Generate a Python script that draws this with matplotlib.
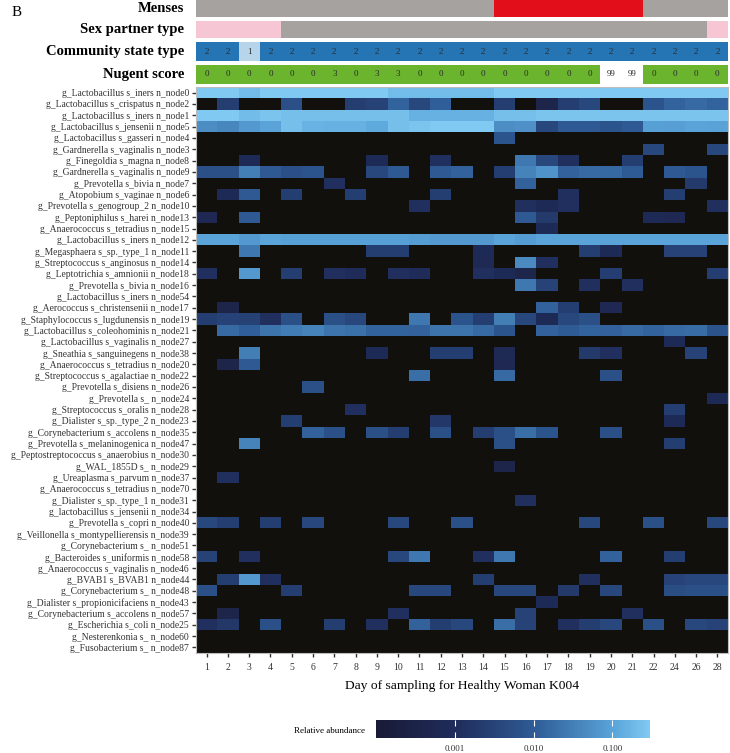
import numpy as np
import matplotlib.pyplot as plt
from matplotlib.colors import LinearSegmentedColormap, LogNorm

W, H = 730, 753

days = [1, 2, 3, 4, 5, 6, 7, 8, 9, 10, 11, 12, 13, 14, 15, 16, 17, 18, 19, 20,
        21, 22, 24, 26, 28]

menses = ['no'] * 14 + ['yes'] * 7 + ['no'] * 4
sex_partner = ['A'] * 4 + ['none'] * 20 + ['A']
cst = [2, 2, 1, 2, 2, 2, 2, 2, 2, 2, 2, 2, 2, 2, 2, 2, 2, 2, 2, 2, 2, 2, 2, 2, 2]
nugent = [0, 0, 0, 0, 0, 0, 3, 0, 3, 3, 0, 0, 0, 0, 0, 0, 0, 0, 0, 99, 99, 0, 0, 0, 0]

taxa = [
    'g_Lactobacillus s_iners n_node0',
    'g_Lactobacillus s_crispatus n_node2',
    'g_Lactobacillus s_iners n_node1',
    'g_Lactobacillus s_jensenii n_node5',
    'g_Lactobacillus s_gasseri n_node4',
    'g_Gardnerella s_vaginalis n_node3',
    'g_Finegoldia s_magna n_node8',
    'g_Gardnerella s_vaginalis n_node9',
    'g_Prevotella s_bivia n_node7',
    'g_Atopobium s_vaginae n_node6',
    'g_Prevotella s_genogroup_2 n_node10',
    'g_Peptoniphilus s_harei n_node13',
    'g_Anaerococcus s_tetradius n_node15',
    'g_Lactobacillus s_iners n_node12',
    'g_Megasphaera s_sp._type_1 n_node11',
    'g_Streptococcus s_anginosus n_node14',
    'g_Leptotrichia s_amnionii n_node18',
    'g_Prevotella s_bivia n_node16',
    'g_Lactobacillus s_iners n_node54',
    'g_Aerococcus s_christensenii n_node17',
    'g_Staphylococcus s_lugdunensis n_node19',
    'g_Lactobacillus s_coleohominis n_node21',
    'g_Lactobacillus s_vaginalis n_node27',
    'g_Sneathia s_sanguinegens n_node38',
    'g_Anaerococcus s_tetradius n_node20',
    'g_Streptococcus s_agalactiae n_node22',
    'g_Prevotella s_disiens n_node26',
    'g_Prevotella s_ n_node24',
    'g_Streptococcus s_oralis n_node28',
    'g_Dialister s_sp._type_2 n_node23',
    'g_Corynebacterium s_accolens n_node35',
    'g_Prevotella s_melaninogenica n_node47',
    'g_Peptostreptococcus s_anaerobius n_node30',
    'g_WAL_1855D s_ n_node29',
    'g_Ureaplasma s_parvum n_node37',
    'g_Anaerococcus s_tetradius n_node70',
    'g_Dialister s_sp._type_1 n_node31',
    'g_lactobacillus s_jensenii n_node34',
    'g_Prevotella s_copri n_node40',
    'g_Veillonella s_montypellierensis n_node39',
    'g_Corynebacterium s_ n_node51',
    'g_Bacteroides s_uniformis n_node58',
    'g_Anaerococcus s_vaginalis n_node46',
    'g_BVAB1 s_BVAB1 n_node44',
    'g_Corynebacterium s_ n_node48',
    'g_Dialister s_propionicifaciens n_node43',
    'g_Corynebacterium s_accolens n_node57',
    'g_Escherichia s_coli n_node25',
    'g_Nesterenkonia s_ n_node60',
    'g_Fusobacterium s_ n_node87',
]

# relative abundance in per-mille, one row per taxon, one value per day (0 = absent)
abund_permille = [
    [300, 300, 200, 300, 300, 300, 300, 300, 300, 200, 200, 200, 200, 200, 300, 300, 300, 300, 300, 300, 300, 300, 300, 300, 300],
    [0, 2.5, 0, 0, 6, 0, 0, 2.5, 3, 13, 4, 11, 0, 0, 2.5, 0, 0.4, 2.5, 4, 0, 0, 7, 13, 16, 13],
    [300, 300, 200, 250, 220, 220, 220, 220, 220, 220, 150, 150, 150, 150, 220, 220, 250, 250, 250, 250, 250, 250, 250, 250, 250],
    [50, 40, 70, 100, 220, 160, 150, 150, 120, 220, 250, 300, 300, 300, 50, 55, 4, 9, 9, 7, 9, 90, 85, 100, 95],
    [0, 0, 0, 0, 0, 0, 0, 0, 0, 0, 0, 0, 0, 0, 7, 0, 0, 0, 0, 0, 0, 0, 0, 0, 0],
    [0, 0, 0, 0, 0, 0, 0, 0, 0, 0, 0, 0, 0, 0, 0, 0, 0, 0, 0, 0, 0, 4, 0, 0, 4],
    [0, 0, 0.8, 0, 0, 0, 0, 0, 0.8, 0, 0, 1.2, 0, 0, 0, 25, 4, 1.2, 0, 0, 2.5, 0, 0, 0, 0],
    [6, 6, 30, 9, 6, 7, 0, 0, 4, 9, 0, 9, 12, 0, 2.5, 35, 60, 12, 16, 15, 10, 0, 9, 7, 0],
    [0, 0, 0, 0, 0, 0, 1.2, 0, 0, 0, 0, 0, 0, 0, 0, 12, 0, 0, 0, 0, 0, 0, 0, 2, 0],
    [0, 0.8, 9, 0, 2.5, 0, 0, 2.5, 0, 0, 0, 2.5, 0, 0, 0, 0, 0, 1.2, 0, 0, 0, 0, 2.5, 0, 0],
    [0, 0, 0, 0, 0, 0, 0, 0, 0, 0, 1.2, 0, 0, 0, 0, 1.2, 0.8, 1.2, 0, 0, 0, 0, 0, 0, 1.2],
    [0.6, 0, 9, 0, 0, 0, 0, 0, 0, 0, 0, 0, 0, 0, 0, 9, 2, 0, 0, 0, 0, 0.8, 0.6, 0, 0],
    [0, 0, 0, 0, 0, 0, 0, 0, 0, 0, 0, 0, 0, 0, 0, 0, 0.8, 0, 0, 0, 0, 0, 0, 0, 0],
    [100, 100, 70, 100, 90, 90, 90, 90, 90, 90, 80, 70, 70, 70, 100, 80, 100, 100, 100, 100, 100, 100, 100, 100, 100],
    [0, 0, 25, 0, 0, 0, 0, 0, 2.5, 2.5, 0, 0, 0, 0.8, 0, 0, 0, 0, 2.5, 0.8, 0, 0, 3, 3, 0],
    [0, 0, 0, 0, 0, 0, 0, 0, 0, 0, 0, 0, 0, 0.7, 0, 45, 1.2, 0, 0, 0, 0, 0, 0, 0, 0],
    [1.2, 0, 70, 0, 2.5, 0, 1.2, 1, 0, 1.2, 1, 0, 0, 1.2, 0.8, 0.4, 0, 0, 0, 2.5, 0, 0, 0, 0, 2.5],
    [0, 0, 0, 0, 0, 0, 0, 0, 0, 0, 0, 0, 0, 0, 0, 25, 3, 0, 1.2, 0, 1.2, 0, 0, 0, 0],
    [0] * 25,
    [0, 0.4, 0, 0, 0, 0, 0, 0, 0, 0, 0, 0, 0, 0, 0, 0, 12, 2.5, 0, 0.6, 0, 0, 0, 0, 0],
    [2.5, 3, 2.8, 1.2, 6, 0, 6, 4, 0, 0, 25, 0, 7, 2.5, 30, 4, 0.8, 4, 6, 0, 0, 0, 0, 0, 0],
    [0, 16, 11, 22, 28, 35, 22, 20, 13, 13, 12, 22, 22, 16, 7, 0, 12, 10, 13, 12, 16, 13, 16, 17, 7],
    [0, 0, 0, 0, 0, 0, 0, 0, 0, 0, 0, 0, 0, 0, 0, 0, 0, 0, 0, 0, 0, 0, 0.8, 0, 0],
    [0, 0, 30, 0, 0, 0, 0, 0, 0.8, 0, 0, 2.5, 2.5, 0, 0.7, 0, 0, 0, 2, 1.2, 0, 0, 0, 3, 0],
    [0, 0.4, 9, 0, 0, 0, 0, 0, 0, 0, 0, 0, 0, 0, 0.6, 0, 0, 0, 0, 0, 0, 0, 0, 0, 0],
    [0, 0, 0, 0, 0, 0, 0, 0, 0, 0, 18, 0, 0, 0, 16, 0, 0, 0, 0, 6, 0, 0, 0, 0, 0],
    [0, 0, 0, 0, 0, 6, 0, 0, 0, 0, 0, 0, 0, 0, 0, 0, 0, 0, 0, 0, 0, 0, 0, 0, 0],
    [0, 0, 0, 0, 0, 0, 0, 0, 0, 0, 0, 0, 0, 0, 0, 0, 0, 0, 0, 0, 0, 0, 0, 0, 0.8],
    [0, 0, 0, 0, 0, 0, 0, 1.2, 0, 0, 0, 0, 0, 0, 0, 0, 0, 0, 0, 0, 0, 0, 2.5, 0, 0],
    [0, 0, 0, 0, 2.5, 0, 0, 0, 0, 0, 0, 1.8, 0, 0, 0, 0, 0, 0, 0, 0, 0, 0, 0.8, 0, 0],
    [0, 0, 0, 0, 0, 12, 6, 0, 6, 2.5, 0, 6, 0, 2.5, 6, 18, 7, 0, 0, 6, 0, 0, 0, 0, 0],
    [0, 0, 35, 0, 0, 0, 0, 0, 0, 0, 0, 0, 0, 0, 6, 0, 0, 0, 0, 0, 0, 0, 2.5, 0, 0],
    [0] * 25,
    [0, 0, 0, 0, 0, 0, 0, 0, 0, 0, 0, 0, 0, 0, 0.4, 0, 0, 0, 0, 0, 0, 0, 0, 0, 0],
    [0, 1.2, 0, 0, 0, 0, 0, 0, 0, 0, 0, 0, 0, 0, 0, 0, 0, 0, 0, 0, 0, 0, 0, 0, 0],
    [0] * 25,
    [0, 0, 0, 0, 0, 0, 0, 0, 0, 0, 0, 0, 0, 0, 0, 1.2, 0, 0, 0, 0, 0, 0, 0, 0, 0],
    [0] * 25,
    [4, 2.5, 0, 2.5, 0, 4, 0, 0, 0, 4, 0, 0, 6, 0, 0, 0, 0, 0, 4, 0, 0, 6, 0, 0, 4],
    [0] * 25,
    [0] * 25,
    [3, 0, 1.2, 0, 0, 0, 0, 0, 0, 4, 25, 0, 0, 1.2, 25, 0, 0, 0, 0, 12, 0, 0, 2.5, 0, 0],
    [0] * 25,
    [0, 2.5, 70, 1.2, 0, 0, 0, 0, 0, 0, 0, 0, 0, 2.5, 0, 0, 0, 0, 1.2, 0, 0, 0, 3, 4, 4],
    [6, 0, 0, 0, 2.5, 0, 0, 0, 0, 0, 4, 4, 0, 0, 4, 4, 0, 2, 0, 4, 0, 0, 5, 6, 6],
    [0, 0, 0, 0, 0, 0, 0, 0, 0, 0, 0, 0, 0, 0, 0, 0, 0.8, 0, 0, 0, 0, 0, 0, 0, 0],
    [0, 0.4, 0, 0, 0, 0, 0, 0, 0, 1.2, 0, 0, 0, 0, 0, 3, 0, 0, 0, 0, 1.2, 0, 0, 0, 0],
    [1.2, 1.8, 0, 6, 0, 0, 2.5, 0, 1.2, 0, 12, 2.5, 4, 0, 18, 3, 0, 1.2, 2.5, 4, 0, 6, 0, 4, 3],
    [0] * 25,
    [0] * 25,
]

plt.rcParams['font.family'] = ['Liberation Serif', 'DejaVu Serif']

fig = plt.figure(figsize=(W / 100, H / 100), dpi=100)


def px_axes(x0, y0, x1, y1):
    return fig.add_axes([x0 / W, 1 - y1 / H, (x1 - x0) / W, (y1 - y0) / H])


X0, X1 = 196, 728
n = len(days)

# annotation bars on top
bars = [
    ('Menses', 0, 17, [{'no': '#a6a29f', 'yes': '#e20f1a'}[v] for v in menses], None),
    ('Sex partner type', 21, 38, [{'A': '#f7c6d4', 'none': '#a6a29f'}[v] for v in sex_partner], None),
    ('Community state type', 42, 61, [{1: '#b7d5ea', 2: '#2574b4'}[v] for v in cst], cst),
    ('Nugent score', 65, 84, ['white' if v == 99 else '#6ab42e' for v in nugent], nugent),
]
for name, y0, y1, colors, labels in bars:
    a = px_axes(X0, y0, X1, y1)
    a.bar(np.arange(n), 1, width=1, color=colors, align='edge', linewidth=0)
    a.set_xlim(0, n)
    a.set_ylim(0, 1)
    a.axis('off')
    if labels is not None:
        for i, v in enumerate(labels):
            a.text(i + 0.5, 0.5, str(v), ha='center', va='center', fontsize=6.5, color='#2b2b2b')
    fig.text(184 / W, 1 - (y0 + y1) / 2 / H, name, ha='right', va='center',
             fontsize=10.5, fontweight='bold')

fig.text(12 / W, 1 - 12 / H, 'B', ha='left', va='center', fontsize=11)

# heatmap
cmap = LinearSegmentedColormap.from_list('abund', [
    (0.0, '#191a36'), (0.29, '#1f2c5a'), (0.58, '#2f5c96'),
    (0.87, '#5aa5da'), (1.0, '#80c9f2')])
norm = LogNorm(vmin=1e-4, vmax=0.3)

mat = np.array(abund_permille, dtype=float) / 1000
masked = np.ma.masked_where(mat <= 0, mat)

ax = px_axes(X0, 87, X1, 653)
ax.set_facecolor('#11100c')
mesh = ax.pcolormesh(np.arange(n + 1), np.arange(len(taxa) + 1), masked,
                     cmap=cmap, norm=norm)
ax.set_xlim(0, n)
ax.set_ylim(len(taxa), 0)
ax.set_xticks(np.arange(n) + 0.5)
ax.set_xticklabels([str(d) for d in days], fontsize=7, color='#333333')
ax.set_yticks(np.arange(len(taxa)) + 0.5)
ax.set_yticklabels(taxa, fontsize=6.95, color='#333333')
ax.tick_params(axis='both', length=3, width=1, color='#333333', pad=2)
ax.tick_params(axis='x', pad=4)
for s in ax.spines.values():
    s.set_color('#bdbdbd')
    s.set_linewidth(0.8)
ax.set_xlabel('Day of sampling for Healthy Woman K004', fontsize=9.7, labelpad=6)

# colorbar
cax = px_axes(376, 720, 650, 738)
cb = fig.colorbar(mesh, cax=cax, orientation='horizontal')
cb.outline.set_visible(False)
cb.set_ticks([0.001, 0.01, 0.1])
cb.set_ticklabels(['0.001', '0.010', '0.100'])
cax.minorticks_off()
cax.tick_params(axis='x', direction='in', length=4, width=0.8, color='white',
                labelcolor='#333333', labelsize=6.5, pad=5, top=True)
fig.text(365 / W, 1 - 731 / H, 'Relative abundance', ha='right', va='center', fontsize=6.5)

fig.savefig('out.png', dpi=100)
